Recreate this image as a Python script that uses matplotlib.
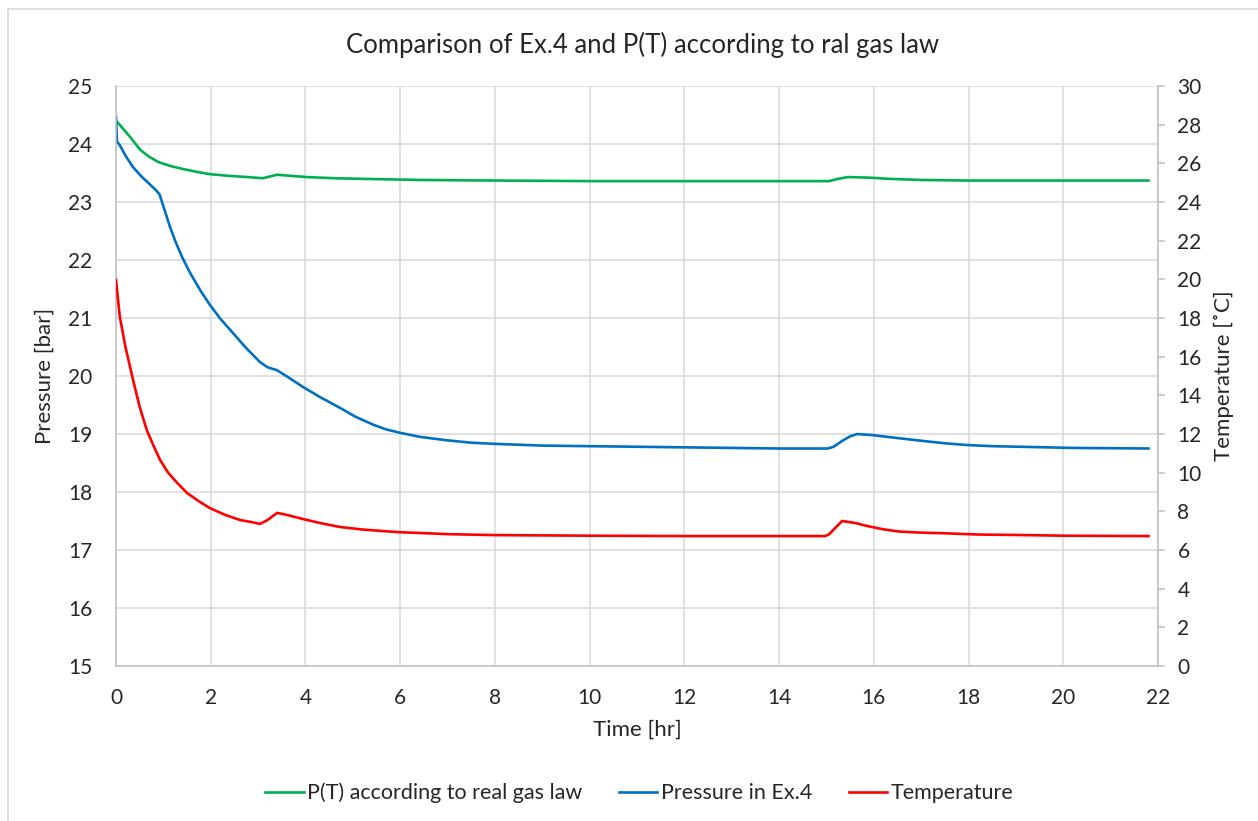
import matplotlib

matplotlib.use("Agg")
import matplotlib.pyplot as plt
from matplotlib.patches import Rectangle

plt.rcParams["font.family"] = ["Lato", "DejaVu Sans"]

# P(T) from the real gas law [bar]
gas_t = [0.0, 0.08, 0.3, 0.51, 0.7, 0.89, 1.15, 1.41, 1.7, 1.98, 2.4, 2.77, 3.10, 3.25,
         3.40, 3.7, 4.03, 4.6, 5.15, 6.42, 8.0, 10.0, 12.0, 14.0, 15.05, 15.25, 15.45,
         15.9, 16.3, 17.0, 18.0, 20.0, 21.8]
gas_p = [24.40, 24.33, 24.12, 23.90, 23.78, 23.69, 23.62, 23.57, 23.52, 23.48, 23.45, 23.43,
         23.41, 23.44, 23.47, 23.45, 23.43, 23.41, 23.40, 23.38, 23.37, 23.36, 23.36, 23.36,
         23.36, 23.40, 23.43, 23.42, 23.40, 23.38, 23.37, 23.37, 23.37]

# measured pressure in Ex.4 [bar]
ex4_t = [0.0, 0.02, 0.08, 0.2, 0.36, 0.55, 0.72, 0.85, 0.92, 1.05, 1.14, 1.25, 1.39, 1.55,
         1.67, 1.8, 1.98, 2.2, 2.47, 2.75, 3.04, 3.2, 3.40, 3.65, 3.95, 4.3, 4.73, 5.05,
         5.43, 5.7, 6.0, 6.42, 7.0, 7.5, 8.0, 9.0, 10.0, 12.0, 14.0, 15.03, 15.15, 15.33,
         15.5, 15.65, 15.98, 16.5, 17.04, 17.5, 17.97, 18.5, 19.09, 20.2, 21.8]
ex4_p = [24.47, 24.04, 23.98, 23.80, 23.60, 23.43, 23.30, 23.20, 23.13, 22.80, 22.57, 22.33,
         22.06, 21.80, 21.63, 21.45, 21.23, 20.99, 20.74, 20.48, 20.24, 20.15, 20.10, 19.97,
         19.81, 19.64, 19.45, 19.30, 19.16, 19.08, 19.02, 18.95, 18.89, 18.85, 18.83, 18.80,
         18.79, 18.77, 18.75, 18.75, 18.78, 18.88, 18.96, 19.00, 18.98, 18.93, 18.88, 18.84,
         18.81, 18.79, 18.78, 18.76, 18.75]

# temperature [degC]
temp_t = [0.0, 0.08, 0.2, 0.36, 0.5, 0.65, 0.8, 0.93, 1.1, 1.3, 1.5, 1.75, 1.98, 2.3, 2.62,
          2.85, 3.04, 3.2, 3.40, 3.6, 3.95, 4.3, 4.73, 5.2, 5.64, 6.0, 6.42, 7.0, 8.0, 10.0,
          12.0, 14.97, 15.05, 15.33, 15.6, 15.86, 16.2, 16.55, 17.0, 17.55, 18.2, 18.94,
          20.0, 21.8]
temp_c = [19.97, 18.07, 16.50, 14.80, 13.40, 12.20, 11.35, 10.66, 10.00, 9.45, 8.95, 8.52,
          8.17, 7.82, 7.55, 7.45, 7.35, 7.55, 7.92, 7.82, 7.60, 7.40, 7.19, 7.06, 6.98, 6.92,
          6.88, 6.82, 6.77, 6.74, 6.72, 6.72, 6.80, 7.50, 7.40, 7.24, 7.07, 6.95, 6.90, 6.86,
          6.80, 6.78, 6.74, 6.72]

GRID = "#D9D9D9"
AXIS = "#BFBFBF"
TEXT = "#262626"
W, H = 1258, 821

fig = plt.figure(figsize=(W / 100, H / 100), dpi=100)
fig.patches.append(Rectangle((8 / W, -0.05), 1.2, (H - 9) / H + 0.05, transform=fig.transFigure,
                             fill=False, edgecolor=GRID, lw=1.2))

ax = fig.add_axes([116 / W, (H - 666) / H, (1158 - 116) / W, (666 - 86) / H])
ax2 = ax.twinx()

l1, = ax.plot(gas_t, gas_p, color="#00B050", lw=1.9, label="P(T) according to real gas law")
l2, = ax.plot(ex4_t, ex4_p, color="#0070C0", lw=1.9, label="Pressure in Ex.4")
l3, = ax2.plot(temp_t, temp_c, color="#FF0000", lw=1.9, label="Temperature")

ax.set_xlim(0, 22)
ax.set_ylim(15, 25)
ax2.set_ylim(0, 30)
ax.set_xticks(range(0, 23, 2))
ax.set_yticks(range(15, 26))
ax2.set_yticks(range(0, 31, 2))

ax.grid(True, color=GRID, lw=1.1)
ax.set_axisbelow(True)
for a in (ax, ax2):
    for side in ("top", "right", "left", "bottom"):
        a.spines[side].set_visible(False)
ax.spines["left"].set_visible(True)
ax.spines["bottom"].set_visible(True)
ax2.spines["right"].set_visible(True)
for sp in (ax.spines["left"], ax.spines["bottom"], ax2.spines["right"]):
    sp.set_color(AXIS)
    sp.set_linewidth(1.1)

ax.tick_params(axis="both", length=0, labelsize=15, colors=TEXT)
ax.tick_params(axis="y", pad=17)
ax.tick_params(axis="x", pad=16)
ax2.tick_params(axis="y", length=5, width=1.1, color=AXIS, labelsize=15,
                labelcolor=TEXT, pad=9)

ax.set_xlabel("Time [hr]", fontsize=16, color=TEXT, labelpad=8)
ax.set_ylabel("Pressure [bar]", fontsize=16, color=TEXT, labelpad=10)
ax2.set_ylabel("Temperature [\u02daC]", fontsize=16, color=TEXT, labelpad=9)

fig.text(0.511, (H - 45) / H, "Comparison of Ex.4 and P(T) according to ral gas law",
         ha="center", va="center", fontsize=18.5, color=TEXT)

fig.legend(handles=[l1, l2, l3], loc="center", bbox_to_anchor=(0.508, (H - 793) / H),
           ncol=3, frameon=False, fontsize=15.5, handlelength=1.8, handletextpad=0.15,
           columnspacing=1.7, labelcolor=TEXT)

fig.savefig("out.png", dpi=100)
